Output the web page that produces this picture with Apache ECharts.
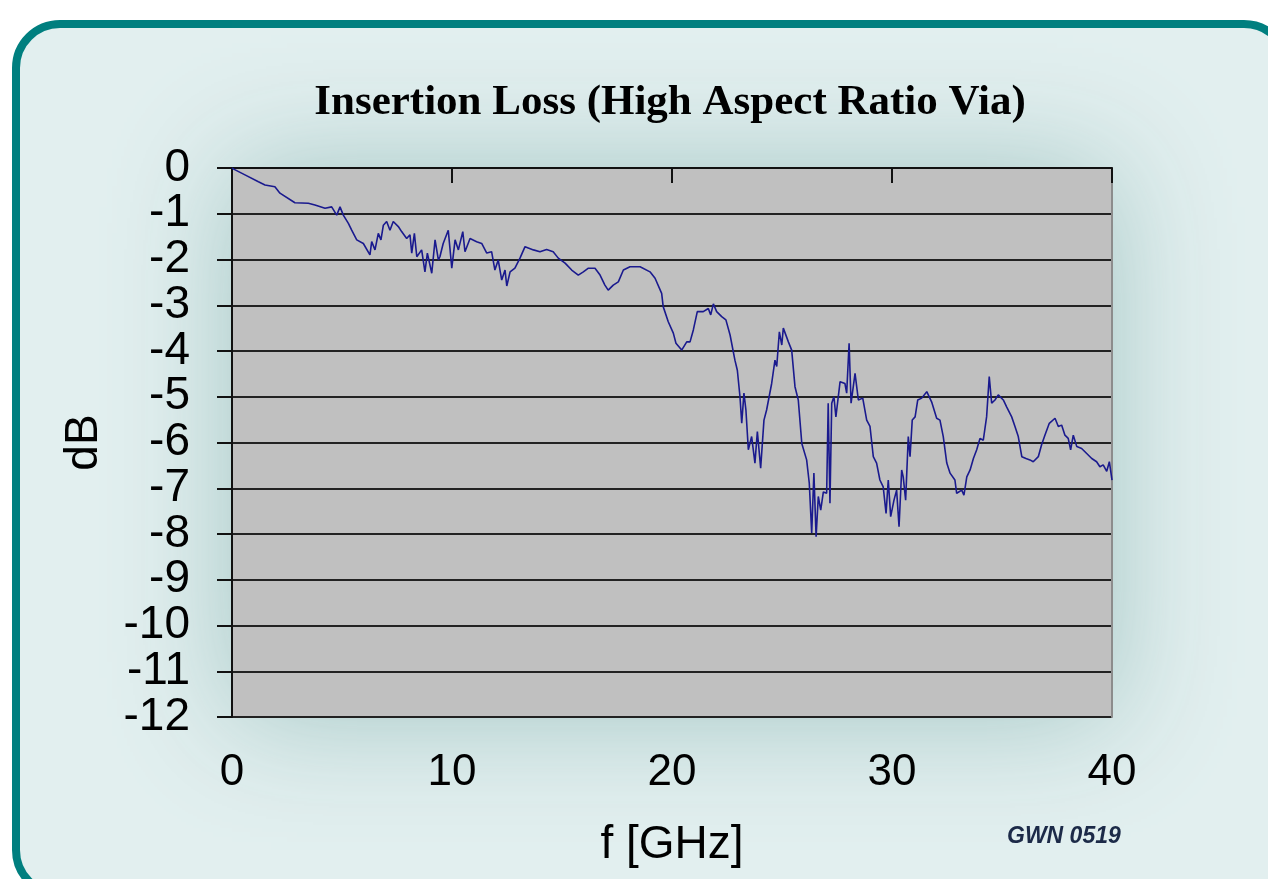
<!DOCTYPE html>
<html>
<head>
<meta charset="utf-8">
<script src="https://cdn.jsdelivr.net/npm/echarts@6/dist/echarts.min.js"></script>
<style>
html,body{margin:0;padding:0;background:#ffffff;}
#chart{width:1268px;height:879px;}
</style>
</head>
<body>
<div id="chart"></div>
<script>
// Frequency samples (GHz)
const freqGHz = [
  0, 0.10, 0.59, 1.20, 1.50, 1.95, 2.18, 2.86, 3.47, 3.77, 4.23, 4.53,
  4.76, 4.91, 5.06, 5.29, 5.44, 5.67, 5.97, 6.27, 6.35, 6.50, 6.65, 6.77,
  6.88, 7.03, 7.18, 7.33, 7.56, 7.71, 7.94, 8.09, 8.17, 8.29, 8.40, 8.62,
  8.77, 8.88, 9.08, 9.23, 9.38, 9.45, 9.60, 9.83, 9.99, 10.14, 10.29, 10.49,
  10.59, 10.82, 11.12, 11.35, 11.58, 11.80, 11.95, 12.10, 12.26, 12.41, 12.49, 12.64,
  12.86, 13.09, 13.32, 13.70, 14.00, 14.30, 14.60, 14.83, 15.14, 15.44, 15.74, 15.97,
  16.20, 16.50, 16.73, 16.95, 17.10, 17.33, 17.56, 17.79, 18.09, 18.40, 18.55, 19.00,
  19.23, 19.53, 19.60, 19.83, 20.06, 20.18, 20.44, 20.67, 20.82, 20.97, 21.15, 21.42,
  21.65, 21.76, 21.88, 22.03, 22.26, 22.45, 22.64, 22.86, 22.97, 23.09, 23.17, 23.27,
  23.36, 23.47, 23.62, 23.77, 23.88, 24.03, 24.18, 24.30, 24.53, 24.68, 24.76, 24.88,
  24.99, 25.06, 25.29, 25.44, 25.59, 25.74, 25.90, 26.12, 26.24, 26.35, 26.45, 26.55,
  26.65, 26.76, 26.88, 27.03, 27.10, 27.18, 27.26, 27.36, 27.45, 27.64, 27.86, 27.94,
  28.05, 28.14, 28.32, 28.47, 28.67, 28.85, 29.00, 29.15, 29.30, 29.45, 29.60, 29.73,
  29.83, 29.94, 30.09, 30.21, 30.32, 30.44, 30.51, 30.62, 30.74, 30.82, 30.92, 31.05,
  31.17, 31.35, 31.58, 31.80, 32.03, 32.18, 32.33, 32.49, 32.64, 32.86, 32.94, 33.17,
  33.27, 33.40, 33.55, 33.70, 33.85, 34.00, 34.15, 34.30, 34.42, 34.53, 34.68, 34.83,
  35.06, 35.21, 35.44, 35.59, 35.74, 35.90, 36.09, 36.27, 36.42, 36.65, 36.80, 36.95,
  37.15, 37.41, 37.56, 37.71, 37.86, 38.01, 38.12, 38.24, 38.40, 38.62, 38.85, 39.08,
  39.30, 39.45, 39.60, 39.76, 39.88, 40.00
];
// Insertion loss (dB) at each frequency sample
const lossDB = [
  0, -0.03, -0.15, -0.30, -0.37, -0.41, -0.55, -0.76, -0.77, -0.81, -0.88, -0.85,
  -1.03, -0.85, -1.03, -1.21, -1.36, -1.57, -1.65, -1.90, -1.61, -1.79, -1.43, -1.57,
  -1.25, -1.17, -1.36, -1.17, -1.28, -1.39, -1.54, -1.46, -1.86, -1.43, -1.94, -1.79,
  -2.27, -1.86, -2.30, -1.57, -2.01, -1.94, -1.65, -1.36, -2.19, -1.57, -1.79, -1.39,
  -1.83, -1.54, -1.61, -1.65, -1.86, -1.83, -2.23, -2.01, -2.45, -2.23, -2.58, -2.27,
  -2.19, -1.97, -1.72, -1.79, -1.83, -1.78, -1.83, -1.97, -2.08, -2.23, -2.34, -2.27,
  -2.19, -2.19, -2.34, -2.56, -2.67, -2.56, -2.49, -2.23, -2.16, -2.16, -2.16, -2.27,
  -2.41, -2.74, -3.03, -3.36, -3.61, -3.83, -3.98, -3.80, -3.80, -3.54, -3.14, -3.14,
  -3.07, -3.21, -2.97, -3.14, -3.25, -3.32, -3.65, -4.20, -4.42, -5.00, -5.58, -4.92,
  -5.29, -6.16, -5.87, -6.45, -5.76, -6.56, -5.51, -5.29, -4.71, -4.20, -4.34, -3.58,
  -3.87, -3.50, -3.80, -3.98, -4.78, -5.07, -6.02, -6.38, -6.89, -7.98, -6.67, -8.06,
  -7.18, -7.48, -7.08, -7.11, -5.14, -7.33, -5.14, -5.00, -5.44, -4.67, -4.71, -4.92,
  -3.83, -5.14, -4.49, -5.07, -5.03, -5.51, -5.65, -6.31, -6.45, -6.82, -6.97, -7.55,
  -6.82, -7.62, -7.26, -7.04, -7.84, -6.60, -6.75, -7.26, -5.87, -6.31, -5.51, -5.44,
  -5.07, -5.03, -4.89, -5.11, -5.47, -5.51, -5.87, -6.45, -6.67, -6.82, -7.11, -7.04,
  -7.15, -6.75, -6.60, -6.35, -6.16, -5.91, -5.95, -5.44, -4.56, -5.14, -5.07, -4.96,
  -5.07, -5.22, -5.44, -5.65, -5.87, -6.31, -6.35, -6.38, -6.42, -6.31, -6.05, -5.84,
  -5.58, -5.47, -5.65, -5.62, -5.84, -5.91, -6.16, -5.84, -6.09, -6.13, -6.24, -6.35,
  -6.42, -6.53, -6.49, -6.63, -6.42, -6.82
];
const xTicks = [0, 10, 20, 30, 40];
const yTicks = [0, -1, -2, -3, -4, -5, -6, -7, -8, -9, -10, -11, -12];

const titleText = 'Insertion Loss (High Aspect Ratio Via)';
const xName = 'f [GHz]';
const yName = 'dB';
const noteText = 'GWN 0519';

const seriesData = freqGHz.map((f, i) => [f, lossDB[i]]);

const chart = echarts.init(document.getElementById('chart'), null, {renderer: 'canvas'});
const sans = 'Liberation Sans, Arial, sans-serif';
const yMin = yTicks[yTicks.length - 1], yMax = yTicks[0];
const yLabelStyle = {margin: 42, fontFamily: sans, fontSize: 46, color: '#000', showMinLabel: true, showMaxLabel: true};

chart.setOption({
  animation: false,
  backgroundColor: '#ffffff',
  title: {
    text: titleText,
    left: 665,
    textAlign: 'center',
    top: 76,
    textStyle: {fontFamily: 'Liberation Serif, Times New Roman, serif', fontWeight: 'bold', fontSize: 43, color: '#000'}
  },
  graphic: [
    {
      type: 'rect', z: -20, silent: true,
      shape: {x: 16, y: 24, width: 1272, height: 870, r: 44},
      style: {fill: '#e2efef', stroke: '#007f7f', lineWidth: 8}
    },
    {
      type: 'rect', z: -15, silent: true,
      shape: {x: 232, y: 168, width: 880, height: 549},
      style: {fill: '#c8dcdb', shadowBlur: 110, shadowColor: 'rgba(160,196,194,0.95)'}
    },
    {
      type: 'text', z: 10, silent: true,
      left: 1007, top: 825,
      style: {text: noteText, fontFamily: sans, fontStyle: 'italic', fontWeight: 'bold', fontSize: 23, fill: '#1c2a48'}
    }
  ],
  grid: {
    left: 232, top: 168, width: 880, height: 549,
    show: true, backgroundColor: '#c0c0c0', borderWidth: 0, containLabel: false
  },
  xAxis: [
    {
      type: 'value', position: 'bottom', min: xTicks[0], max: xTicks[xTicks.length - 1], interval: 10,
      axisLine: {show: false}, axisTick: {show: false}, splitLine: {show: false},
      axisLabel: {margin: 34, fontFamily: sans, fontSize: 44, color: '#000', showMinLabel: true, showMaxLabel: true},
      name: xName, nameLocation: 'middle', nameGap: 105,
      nameTextStyle: {fontFamily: sans, fontSize: 46, color: '#000'}
    },
    {
      type: 'value', position: 'top', min: xTicks[0], max: xTicks[xTicks.length - 1], interval: 10,
      axisLine: {show: true, onZero: false, lineStyle: {color: '#111', width: 2}},
      axisTick: {show: true, inside: true, length: 15, lineStyle: {color: '#111', width: 2}},
      axisLabel: {show: false}, splitLine: {show: false}
    }
  ],
  yAxis: [
    {
      type: 'value', position: 'left', min: yMin, max: yMax, interval: 1,
      axisLine: {show: true, onZero: false, lineStyle: {color: '#111', width: 2}},
      axisTick: {show: true, inside: false, length: 15, lineStyle: {color: '#111', width: 2}},
      axisLabel: Object.assign({}, yLabelStyle, {formatter: v => (Math.abs(v) % 2 === 0 ? String(v) : '')}),
      splitLine: {show: true, lineStyle: {color: '#222', width: 2}},
      name: yName, nameLocation: 'middle', nameGap: 125, nameRotate: 90,
      nameTextStyle: {fontFamily: sans, fontSize: 46, color: '#000'}
    },
    {
      type: 'value', position: 'right', min: yMin, max: yMax, interval: 1,
      axisLine: {show: true, onZero: false, lineStyle: {color: '#8c8c8c', width: 2}},
      axisTick: {show: false}, axisLabel: {show: false}, splitLine: {show: false}
    },
    {
      type: 'value', position: 'left', min: yMin, max: yMax, interval: 1,
      axisLine: {show: false}, axisTick: {show: false}, splitLine: {show: false},
      axisLabel: Object.assign({}, yLabelStyle, {formatter: v => (Math.abs(v) % 2 === 1 ? String(v) : '')})
    }
  ],
  series: [{
    type: 'line',
    xAxisIndex: 0, yAxisIndex: 0,
    data: seriesData,
    showSymbol: false,
    symbol: 'none',
    lineStyle: {color: '#1a1a8e', width: 1.6},
    z: 5
  }]
});
</script>
</body>
</html>
